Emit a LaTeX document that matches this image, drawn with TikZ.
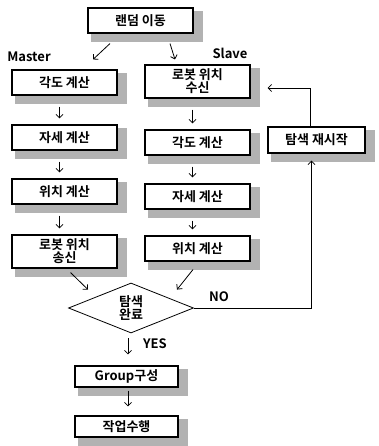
\documentclass[tikz,border=0pt]{standalone}
\usepackage{fontspec}
\setmainfont{Noto Sans CJK KR}[BoldFont={Noto Sans CJK KR Bold}]
\usetikzlibrary{calc, positioning, arrows.meta, shapes.geometric, backgrounds}

\begin{document}
\begin{tikzpicture}[x=1pt, y=-1pt, font=\bfseries\fontsize{13}{15}\selectfont,
  box/.style={draw, line width=1.1pt, fill=white, minimum width=105pt, minimum height=25pt,
    inner sep=2pt, align=center},
  halo/.style={fill=gray!60},
  cond/.style={draw, diamond, line width=0.8pt, minimum width=125pt, minimum height=50pt,
    aspect=2.5, inner sep=0pt, align=center},
  flow/.style={-{Straight Barb[length=3.5pt, width=7pt]}, line width=0.8pt},
  lbl/.style={font=\bfseries\fontsize{13}{15}\selectfont}]
  \useasboundingbox (0,0) rectangle (378,446);

  % Start
  \node[box] (rand) at (140.5,20.5) {랜덤 이동};
  \node[lbl] (mlbl) at (29,57) {Master};
  \node[lbl] (slbl) at (230,53) {Slave};

  % Master side
  \foreach \name/\y/\txt in {ang1/82.5/각도 계산, pos1/137.5/자세 계산, loc1/191.5/위치 계산} {
    \node[box] (\name) at (64.5,\y) {\txt};
  }
  \node[box, minimum height=33pt] (send) at (64.5,251.5) {로봇 위치\\[-2pt]송신};

  % Slave side
  \node[box, minimum height=33pt] (recv) at (197.5,81.5) {로봇 위치\\[-2pt]수신};
  \foreach \name/\y/\txt in {ang2/142.5/각도 계산, pos2/196.5/자세 계산, loc2/248.5/위치 계산} {
    \node[box] (\name) at (197.5,\y) {\txt};
  }
  \node[box, minimum width=97pt, minimum height=26pt] (restart) at (316.5,140) {탐색 재시작};

  % Decision and end
  \node[cond] (dec) at (131,308) {탐색\\[-2pt]완료};
  \node[box, minimum width=103pt, minimum height=21pt] (group) at (126.5,376.5) {Group구성};
  \node[box, minimum width=103pt, minimum height=21pt] (work) at (126.5,426.5) {작업수행};
  \node[lbl] (nolbl) at (219,297) {NO};
  \node[lbl] (yeslbl) at (155,344) {YES};

  % Shadows behind the boxes
  \begin{scope}[on background layer]
    \foreach \n in {rand, ang1, pos1, loc1, send, recv, ang2, pos2, loc2, restart, group, work} {
      \fill[halo] ([xshift=4pt,yshift=-8pt]\n.south west) rectangle ([xshift=9pt,yshift=-4pt]\n.north east);
    }
  \end{scope}

  % Arrows
  \draw[flow] ([xshift=-30.5pt,yshift=-10pt]rand.south) -- ([xshift=28.5pt,yshift=10pt]ang1.north);
  \draw[flow] ([xshift=29.5pt,yshift=-10pt]rand.south) -- ([xshift=-22.5pt,yshift=5pt]recv.north);
  \foreach \a/\b in {ang1/pos1, pos1/loc1, loc1/send, recv/ang2, ang2/pos2, pos2/loc2} {
    \draw[flow, shorten <=11pt, shorten >=6pt] ([xshift=-5pt]\a.south) -- ([xshift=-5pt]\b.north);
  }
  \draw[flow] ([xshift=6pt,yshift=-4pt]send.south) -- ([xshift=-43pt,yshift=-7pt]dec.north);
  \draw[flow] ([xshift=-4.5pt,yshift=-8pt]loc2.south) -- ([xshift=46pt,yshift=-7pt]dec.north);
  \draw[flow] (dec.east) -| ([xshift=-5pt,yshift=-7pt]restart.south);
  \draw[flow] ([xshift=-6pt]restart.north) |- ([xshift=17pt,yshift=-6.5pt]recv.east);
  \draw[flow] ([xshift=-3pt,yshift=-5pt]dec.south) -- ([xshift=1.5pt,yshift=11pt]group.north);
  \draw[flow, shorten <=3pt, shorten >=9pt] ([xshift=1.5pt]group.south) -- ([xshift=1.5pt]work.north);
\end{tikzpicture}
\end{document}
